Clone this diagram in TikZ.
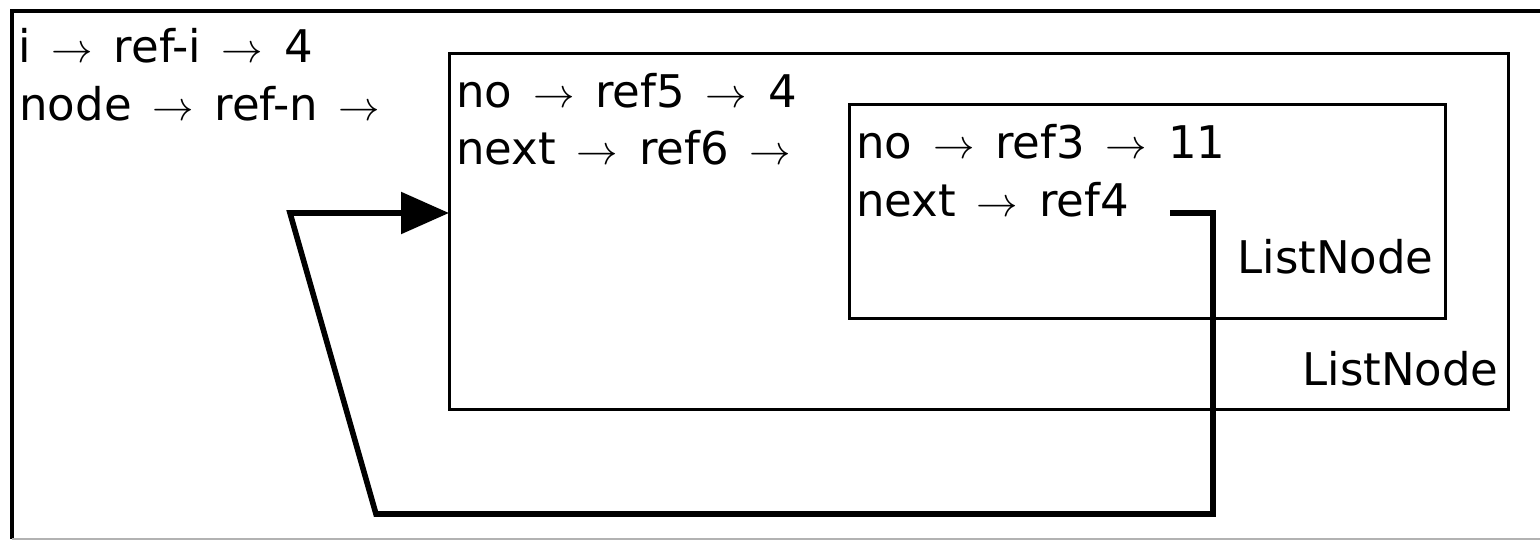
\documentclass[tikz,border=0pt]{standalone}
\usepackage{fontspec}
\setmainfont{DejaVu Sans}[WordSpace=1.45]
\usetikzlibrary{arrows.meta}
\begin{document}
\begin{tikzpicture}[x=0.5pt,y=-0.5pt,
  box/.style={draw=black,line width=1.5pt},
  txt/.style={inner sep=0pt,anchor=base west,font=\fontsize{22.5pt}{27pt}\selectfont},
  lbl/.style={inner sep=0pt,anchor=base east,font=\fontsize{22.5pt}{27pt}\selectfont},
  link/.style={draw=black,line width=2.8pt},
  ar/.style={-{Triangle[length=24pt,width=20.5pt]}}]
\useasboundingbox (0,0) rectangle (1540,540);
% outer frame
\draw[line width=1.6pt] (1560,11) -- (12,11) -- (12,539);
\draw[line width=0.8pt,black!30] (12,539) -- (1560,539);
% boxes
\draw[box] (449,54) rectangle (1508,409);
\draw[box] (849,105) rectangle (1445,318);
\coordinate (midL) at (449,213);
% texts
\node[txt] (t1) at (18,63) {i $\rightarrow$ ref-i $\rightarrow$ 4};
\node[txt] (t2) at (19,120) {node $\rightarrow$ ref-n $\rightarrow$};
\node[txt] (t3) at (456,107) {no $\rightarrow$ ref5 $\rightarrow$ 4};
\node[txt] (t4) at (456,164) {next $\rightarrow$ ref6 $\rightarrow$};
\node[txt] (t5) at (856,158) {no $\rightarrow$ ref3 $\rightarrow$ 11};
\node[txt] (t6) at (856,216) {next $\rightarrow$ ref4};
\node[lbl] (l1) at (1434,273) {ListNode};
\node[lbl] (l2) at (1499,385) {ListNode};
% connector
\coordinate (s) at (1170,213);
\coordinate (c1) at (1213,213);
\coordinate (c2) at (1213,514);
\coordinate (c3) at (376,514);
\coordinate (c4) at (290,213);
\draw[link,ar,line join=miter] (s) -- (c1) -- (c2) -- (c3) -- (c4) -- (midL);
\end{tikzpicture}
\end{document}
